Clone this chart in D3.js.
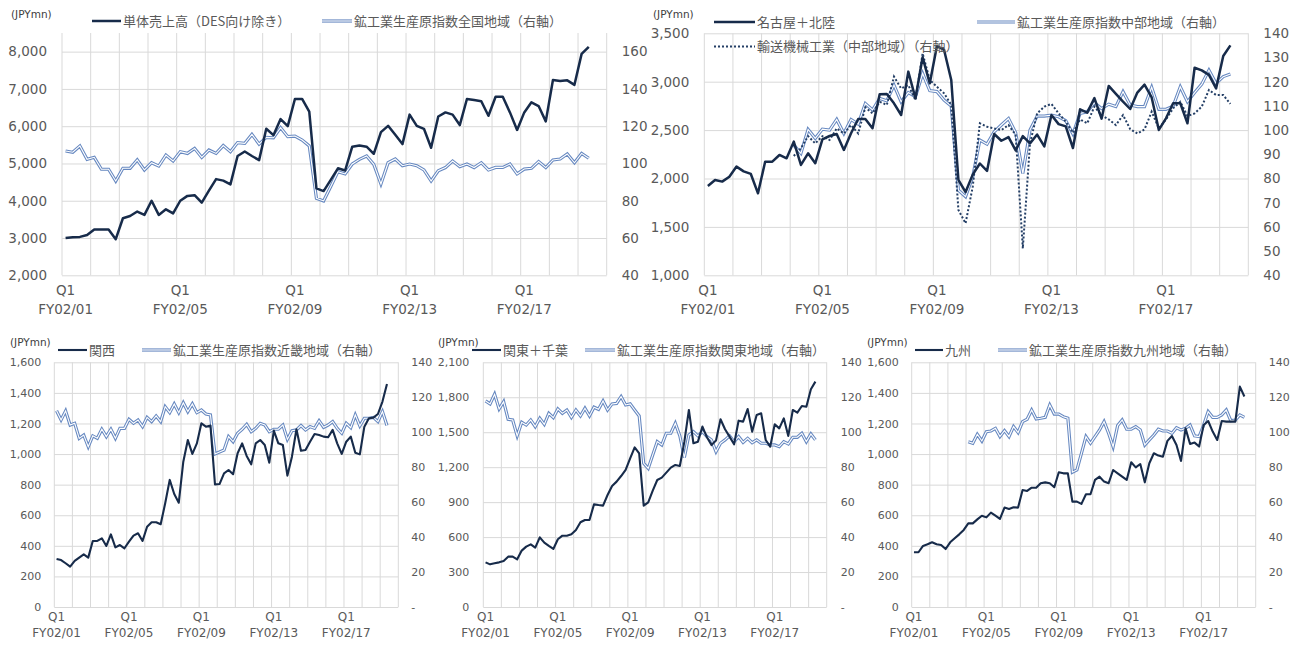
<!DOCTYPE html>
<html>
<head>
<meta charset="utf-8">
<script src="https://cdn.jsdelivr.net/npm/d3@7"></script>
<style>
	body { margin: 0; background: #fff; }
	svg { display: block; }
</style>
</head>
<body>
<svg id="chart" width="1301" height="645"></svg>
<script>
// categories: quarterly, Q1 FY02/01 .. Q4 FY02/19
const fiscalYears = ['FY02/01','FY02/02','FY02/03','FY02/04','FY02/05','FY02/06','FY02/07','FY02/08','FY02/09','FY02/10',
	'FY02/11','FY02/12','FY02/13','FY02/14','FY02/15','FY02/16','FY02/17','FY02/18','FY02/19'];
const quarterNames = ['Q1','Q2','Q3','Q4'];
const labelledYears = ['FY02/01','FY02/05','FY02/09','FY02/13','FY02/17'];

// 単体売上高 / 鉱工業生産原指数全国地域
const salesTotal = [3000,3020,3030,3080,3230,3230,3230,2970,3530,3590,3710,3620,4000,3620,3770,3660,4000,4130,4150,3950,
	4270,4580,4540,4440,5200,5320,5200,5090,5930,5760,6190,6000,6730,6730,6390,4330,4260,4560,4870,4810,
	5450,5480,5450,5260,5840,6010,5770,5520,6310,6010,5930,5420,6260,6370,6310,6030,6730,6700,6670,6280,
	6790,6790,6370,5900,6370,6640,6540,6130,7240,7210,7230,7110,7940,8130];
const ipiNational = [106.7,106.0,109.4,102.2,103.3,96.9,96.9,90.6,97.4,97.4,101.9,96.5,100.4,98.6,104.5,101.3,106.3,105.4,108.1,103.3,
	107.2,105.4,109.6,106.3,111.2,110.8,115.6,110.4,114.0,113.8,119.2,114.4,114.7,112.6,109.4,81.3,79.9,87.6,95.6,94.4,
	99.7,102.2,104.0,99.5,89.0,100.4,102.4,98.8,99.7,98.8,96.5,90.6,96.1,97.8,101.3,98.3,99.7,97.8,100.4,96.5,
	97.9,97.9,99.7,94.4,97.0,97.4,101.0,97.8,101.9,102.4,105.1,100.4,105.4,102.8];

// 名古屋＋北陸 / 中部地域 / 輸送機械工業
const salesChubu = [1923,1985,1968,2019,2123,2074,2047,1847,2174,2174,2243,2209,2381,2140,2260,2157,2405,2439,2460,2295,
	2467,2615,2615,2519,2870,2873,2777,2656,3104,2828,3252,2983,3369,3328,3018,1985,1860,2040,2155,2078,
	2460,2390,2428,2290,2438,2363,2454,2332,2655,2562,2538,2315,2715,2680,2830,2618,2956,2875,2794,2718,
	2888,2970,2837,2502,2622,2777,2777,2571,3144,3117,3070,2931,3265,3375];
const ipiChubu = [null,null,null,null,null,null,null,null,null,null,null,null,93.8,90.4,100.3,96.6,100.4,100.0,104.4,98.6,
	104.4,102.5,111.0,108.3,113.1,112.1,118.6,111.7,115.5,113.8,123.4,116.3,115.9,112.4,109.9,75.2,72.5,80.7,95.9,94.2,
	99.3,102.1,104.8,98.9,82.1,100.0,105.8,105.8,106.2,105.5,103.9,98.4,106.9,107.6,111.3,108.9,110.7,109.7,115.9,110.4,
	109.7,109.7,117.7,108.6,108.6,109.9,117.9,111.7,115.5,119.0,124.8,119.3,122.1,123.2];
const ipiTransportChubu = [null,null,null,null,null,null,null,null,null,null,null,null,89.3,92.5,97.5,94.5,97.5,95.9,100.7,98.6,
	102.1,98.6,109.4,106.9,111.7,110.4,122.1,117.2,118.6,112.4,131.7,120.7,117.9,115.2,110.4,67.0,61.5,76.6,102.8,101.4,
	100.7,100.0,102.1,98.0,51.1,94.5,106.9,109.7,110.8,106.9,103.5,98.9,104.4,102.8,109.7,106.1,104.4,102.1,106.2,100.4,
	98.6,100.3,107.6,100.7,104.4,109.0,111.7,105.8,106.9,109.7,116.6,114.5,114.5,110.8];

// 関西 / 近畿地域
const salesKansai = [314,307,286,264,301,323,344,323,432,432,449,399,475,390,405,384,427,467,482,432,
	525,554,554,541,678,831,739,682,950,1092,1001,1070,1201,1179,1186,802,804,874,896,868,
	1005,1070,988,933,1070,1092,1059,944,1153,1070,1059,859,983,1162,1022,1027,1081,1131,1125,1114,
	1110,1158,1070,1001,1081,1114,1009,998,1179,1234,1238,1262,1343,1458];
const ipiKinki = [112.3,107.0,112.2,104.1,105.1,96.5,98.4,91.7,97.9,96.5,101.7,97.5,101.7,96.5,102.2,102.2,107.4,105.1,107.0,103.2,
	108.5,106.1,109.3,106.1,114.6,111.2,116.2,111.2,116.9,111.8,116.2,111.2,112.7,110.4,109.9,87.6,88.7,89.8,97.5,94.6,
	99.4,101.7,104.5,100.3,102.2,105.1,104.1,100.3,101.7,101.7,104.1,95.9,100.9,101.3,103.8,101.3,103.2,102.2,106.6,102.8,
	104.1,106.1,102.2,99.4,105.1,102.6,109.9,103.6,108.0,108.0,108.5,106.1,111.8,103.8];

// 関東＋千葉 / 関東地域
const salesKanto = [383,366,375,383,395,432,432,409,484,518,538,509,598,552,524,498,581,612,612,624,
	661,727,747,747,881,875,870,961,1039,1076,1124,1176,1276,1370,1319,870,898,998,1090,1110,
	1153,1196,1219,1210,1419,1691,1405,1419,1548,1456,1390,1428,1611,1525,1462,1396,1599,1591,1699,1505,
	1648,1662,1433,1376,1568,1533,1619,1468,1691,1668,1725,1719,1868,1934];
const ipiKanto = [117.9,116.2,121.7,113.3,117.5,107.4,107.0,97.9,105.7,104.1,107.0,103.2,108.0,104.5,110.8,108.3,113.3,110.8,112.7,108.5,
	112.7,109.3,113.7,109.3,114.3,113.1,117.9,112.7,116.2,116.5,120.4,115.6,116.2,112.7,109.3,82.2,79.3,87.0,94.6,92.7,
	99.4,99.4,105.1,97.9,85.5,98.4,100.3,97.9,100.3,97.5,95.6,88.9,93.7,95.6,97.9,94.6,97.5,94.2,96.5,94.0,
	95.6,93.7,93.7,92.7,92.7,91.7,94.6,93.3,97.1,97.1,99.4,94.6,99.0,95.6];

// 九州 / 九州地域
const salesKyushu = [358,358,399,410,423,410,405,379,423,449,475,504,547,547,573,597,586,617,597,576,
	650,641,652,650,765,759,780,780,809,815,809,783,881,874,874,689,689,674,737,737,
	831,852,820,809,896,874,852,831,946,913,935,815,940,1005,990,983,1086,1118,1059,955,
	1168,1066,1075,1049,1190,1216,1147,1092,1216,1212,1212,1212,1441,1376];
const ipiKyushu = [null,null,null,null,null,null,null,null,null,null,null,null,94.6,93.7,98.8,95.0,100.3,100.7,102.2,97.5,
	100.9,97.5,103.2,99.8,106.1,107.4,112.7,107.6,108.0,108.5,115.6,110.4,110.4,108.9,108.0,77.1,78.4,87.9,97.5,93.7,
	97.5,101.3,106.1,99.4,91.7,103.8,107.0,101.7,101.7,103.2,101.3,92.7,95.6,98.4,101.7,100.7,100.7,99.4,102.6,101.3,
	102.2,104.1,97.9,97.5,104.1,111.8,108.5,108.5,109.9,112.7,106.6,107.0,109.9,108.5];

// axis ticks
const ticksSales = [2000,3000,4000,5000,6000,7000,8000];
const ticksIpi40 = [40,60,80,100,120,140,160];
const ticksChubu = [1000,1500,2000,2500,3000,3500];
const ticksIpiChubu = [40,50,60,70,80,90,100,110,120,130,140];
const ticks1600 = [0,200,400,600,800,1000,1200,1400,1600];
const ticks2100 = [0,300,600,900,1200,1500,1800,2100];
const ticksIpi0 = [0,20,40,60,80,100,120,140];

const categories = fiscalYears.flatMap(fy => quarterNames.map(q => `${q} ${fy}`));

function RegionChart(){
	const self = {
		_svg: null,
		_dark: '#172b4a',
		_dotted: '#243f66',
		_blue: '#6688c0',
		_grid: '#d9d9d9',
		_text: '#595959',
		_latin: "'DejaVu Sans', sans-serif",
		_cjk: "'Noto Sans CJK JP', sans-serif",
	};

	function _init(){
		self.setSvg = _getParameterSetter('_svg');
		self.render = _render;
		return self;
	}

	function _getParameterSetter(key){
		return (value)=>self[key]=value;
	}

	function _drawSeries(g, path, style, width){
		if(style === 'double'){
			g.append('path').attr('d', path).attr('fill', 'none')
				.attr('stroke', self._blue).attr('stroke-width', 3.2);
			g.append('path').attr('d', path).attr('fill', 'none')
				.attr('stroke', '#fff').attr('stroke-width', 1.1);
		} else if(style === 'dotted'){
			g.append('path').attr('d', path).attr('fill', 'none')
				.attr('stroke', self._dotted).attr('stroke-width', 2)
				.attr('stroke-dasharray', '2 2');
		} else {
			g.append('path').attr('d', path).attr('fill', 'none')
				.attr('stroke', self._dark).attr('stroke-width', width)
				.attr('stroke-linejoin', 'round');
		}
	}

	function _renderPanel(p){
		const g = self._svg.append('g').attr('class', 'panel');
		const x = d3.scaleBand().domain(categories).range([p.x0, p.x1]);
		const yL = d3.scaleLinear().domain(p.leftDomain).range([p.y1, p.y0]);
		const yR = d3.scaleLinear().domain(p.rightDomain).range([p.y1, p.y0]);
		const cx = c => x(c) + x.bandwidth()/2;

		// horizontal grid from the left axis
		g.append('g')
			.attr('transform', `translate(${p.x0},0)`)
			.call(d3.axisLeft(yL).tickValues(p.leftTicks).tickSize(-(p.x1 - p.x0)).tickFormat(''))
			.call(a => a.select('.domain').remove())
			.selectAll('line').attr('stroke', self._grid);

		// vertical grid every fiscal year
		const yearEdges = categories.filter((c, i) => i % 4 === 0).map(c => x(c)).concat([p.x1]);
		g.append('g').selectAll('line')
			.data(yearEdges)
			.join('line')
				.attr('x1', d => d).attr('x2', d => d)
				.attr('y1', p.y0).attr('y2', p.y1)
				.attr('stroke', self._grid);

		// left axis labels
		g.append('g')
			.attr('transform', `translate(${p.x0 - p.labelGap},0)`)
			.call(d3.axisLeft(yL).tickValues(p.leftTicks).tickSize(0).tickPadding(0).tickFormat(d3.format(',')))
			.call(a => a.select('.domain').remove())
			.selectAll('text')
				.attr('fill', self._text)
				.attr('font-family', self._latin)
				.attr('font-size', p.yFont);

		// right axis labels
		g.append('g')
			.attr('transform', `translate(${p.x1 + p.labelGap},0)`)
			.call(d3.axisRight(yR).tickValues(p.rightTicks).tickSize(0).tickPadding(0)
				.tickFormat(d => d === 0 ? ' -' : d3.format(',')(d)))
			.call(a => a.select('.domain').remove())
			.selectAll('text')
				.attr('fill', self._text)
				.attr('font-family', self._latin)
				.attr('font-size', p.yFont);

		// category labels: Q1 / FY
		const labelled = labelledYears.map(fy => `Q1 ${fy}`);
		g.append('g')
			.attr('transform', `translate(0,${p.y1})`)
			.call(d3.axisBottom(x).tickValues(labelled).tickSize(0).tickPadding(0))
			.call(a => a.select('.domain').remove())
			.selectAll('text')
				.attr('fill', self._text)
				.attr('font-family', self._latin)
				.attr('font-size', p.xFont)
				.attr('dy', null)
				.each(function(d){
					const parts = d.split(' ');
					d3.select(this).text(null);
					d3.select(this).append('tspan').attr('x', 0).attr('y', p.qOffset).text(parts[0]);
					d3.select(this).append('tspan').attr('x', 0).attr('y', p.fyOffset).text(parts[1]);
				});

		// series
		p.series.forEach(s => {
			const scale = s.axis === 'right' ? yR : yL;
			const line = d3.line()
				.defined(d => d != null)
				.x((d, i) => cx(categories[i]))
				.y(d => scale(d));
			_drawSeries(g, line(s.values), s.style, p.lineWidth);
		});

		// unit label
		g.append('text')
			.attr('x', p.unit[0]).attr('y', p.unit[1])
			.attr('fill', '#404040')
			.attr('font-family', self._latin)
			.attr('font-size', 10.5)
			.text('(JPYmn)');

		// legend
		p.legend.forEach(l => {
			const lg = g.append('g');
			_drawSeries(lg, `M${l.x1},${l.y}H${l.x2}`, l.style, p.lineWidth);
			lg.append('text')
				.attr('x', l.x2 + 2).attr('y', l.y)
				.attr('dy', '0.36em')
				.attr('fill', self._text)
				.attr('font-family', self._cjk)
				.attr('font-size', 13)
				.text(l.label);
		});
	}

	function _render(panels){
		panels.forEach(_renderPanel);
	}

	return _init();
}

const panels = [
	{
		x0: 62, x1: 606.7, y0: 33, y1: 275.3, labelGap: 15, yFont: 13.5, xFont: 13.5, qOffset: 20, fyOffset: 39, lineWidth: 2.5,
		leftDomain: [2000, 8500], leftTicks: ticksSales,
		rightDomain: [40, 170], rightTicks: ticksIpi40,
		series: [
			{values: ipiNational, axis: 'right', style: 'double'},
			{values: salesTotal, axis: 'left', style: 'dark'},
		],
		unit: [11, 18],
		legend: [
			{label: '単体売上高（DES向け除き）', style: 'dark', x1: 92, x2: 121, y: 21},
			{label: '鉱工業生産原指数全国地域（右軸）', style: 'double', x1: 322, x2: 352, y: 21},
		],
	},
	{
		x0: 704.3, x1: 1248.3, y0: 33.3, y1: 275.3, labelGap: 15, yFont: 13.5, xFont: 13.5, qOffset: 20, fyOffset: 39, lineWidth: 2.5,
		leftDomain: [1000, 3500], leftTicks: ticksChubu,
		rightDomain: [40, 140], rightTicks: ticksIpiChubu,
		series: [
			{values: ipiChubu, axis: 'right', style: 'double'},
			{values: ipiTransportChubu, axis: 'right', style: 'dotted'},
			{values: salesChubu, axis: 'left', style: 'dark'},
		],
		unit: [653, 18],
		legend: [
			{label: '名古屋＋北陸', style: 'dark', x1: 714, x2: 755, y: 22},
			{label: '鉱工業生産原指数中部地域（右軸）', style: 'double', x1: 977, x2: 1015, y: 22},
			{label: '輸送機械工業（中部地域）（右軸）', style: 'dotted', x1: 714, x2: 755, y: 46.5},
		],
	},
	{
		x0: 54.3, x1: 398.3, y0: 362.3, y1: 607, labelGap: 13, yFont: 11, xFont: 12, qOffset: 14, fyOffset: 30, lineWidth: 2.1,
		leftDomain: [0, 1600], leftTicks: ticks1600,
		rightDomain: [0, 140], rightTicks: ticksIpi0,
		series: [
			{values: ipiKinki, axis: 'right', style: 'double'},
			{values: salesKansai, axis: 'left', style: 'dark'},
		],
		unit: [10, 346],
		legend: [
			{label: '関西', style: 'dark', x1: 58, x2: 87, y: 350},
			{label: '鉱工業生産原指数近畿地域（右軸）', style: 'double', x1: 142, x2: 171, y: 350},
		],
	},
	{
		x0: 483.3, x1: 826.7, y0: 362.3, y1: 607, labelGap: 14, yFont: 11, xFont: 12, qOffset: 14, fyOffset: 30, lineWidth: 2.1,
		leftDomain: [0, 2100], leftTicks: ticks2100,
		rightDomain: [0, 140], rightTicks: ticksIpi0,
		series: [
			{values: ipiKanto, axis: 'right', style: 'double'},
			{values: salesKanto, axis: 'left', style: 'dark'},
		],
		unit: [438, 346],
		legend: [
			{label: '関東＋千葉', style: 'dark', x1: 472, x2: 501, y: 350},
			{label: '鉱工業生産原指数関東地域（右軸）', style: 'double', x1: 585, x2: 615, y: 350},
		],
	},
	{
		x0: 911.7, x1: 1255.7, y0: 362.3, y1: 607, labelGap: 13, yFont: 11, xFont: 12, qOffset: 14, fyOffset: 30, lineWidth: 2.1,
		leftDomain: [0, 1600], leftTicks: ticks1600,
		rightDomain: [0, 140], rightTicks: ticksIpi0,
		series: [
			{values: ipiKyushu, axis: 'right', style: 'double'},
			{values: salesKyushu, axis: 'left', style: 'dark'},
		],
		unit: [867, 346],
		legend: [
			{label: '九州', style: 'dark', x1: 915, x2: 943, y: 350},
			{label: '鉱工業生産原指数九州地域（右軸）', style: 'double', x1: 998, x2: 1027, y: 350},
		],
	},
];

const chart = RegionChart();
chart.setSvg(d3.select('#chart'));
chart.render(panels);
</script>
</body>
</html>
